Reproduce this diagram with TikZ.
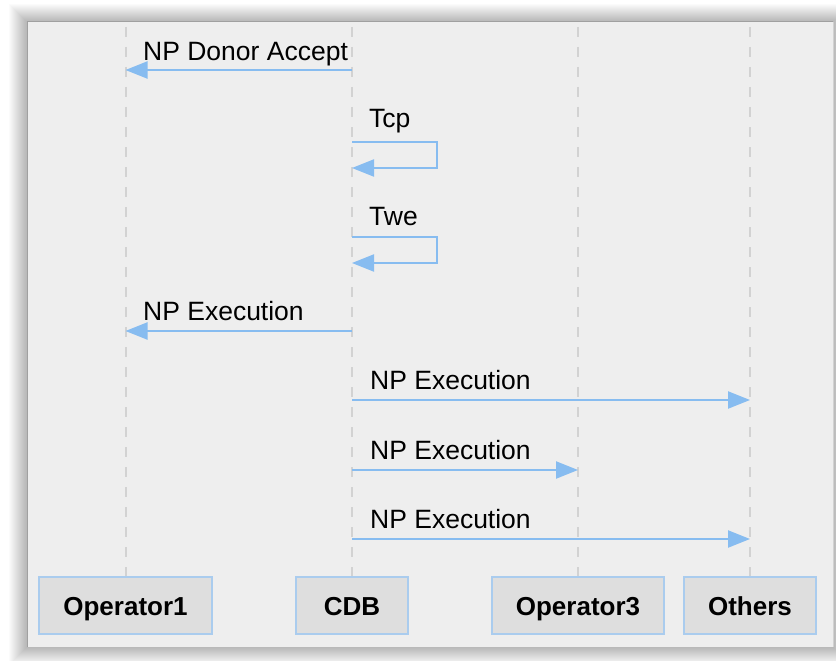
\documentclass[tikz,border=0pt]{standalone}
\usepackage{fontspec}
\setmainfont{Liberation Sans}
\usetikzlibrary{arrows.meta}
\definecolor{panelbg}{RGB}{238,238,238}
\definecolor{boxfill}{RGB}{222,222,222}
\definecolor{boxline}{RGB}{170,204,238}
\definecolor{msg}{RGB}{135,188,240}
\definecolor{life}{RGB}{210,210,210}
\definecolor{panelline}{RGB}{160,160,160}
\begin{document}
\begin{tikzpicture}[x=1pt,y=-1pt,
  lifebox/.style={draw=boxline, line width=1.5pt, fill=boxfill, minimum height=57pt, inner sep=0pt, text height=19pt, text depth=0pt, font=\fontsize{26}{30}\selectfont\bfseries},
  lifeline/.style={draw=life, line width=2pt, dash pattern=on 10pt off 10pt},
  msgline/.style={draw=msg, line width=2.2pt, -{Triangle[length=22pt,width=17pt]}},
  selfline/.style={draw=msg, line width=2pt, -{Triangle[length=22pt,width=17pt]}},
  msglabel/.style={anchor=base west, inner sep=0pt, font=\fontsize{26.5}{30}\selectfont}]
\useasboundingbox (0,0) rectangle (836,661);
\fill[white] (0,0) rectangle (836,661);
% soft shadow around the panel
\foreach \k in {1,...,18}{
  \fill[black, opacity=0.016] (27-\k,22-\k) rectangle (833+\k,647+\k);
}
\fill[panelbg] (27,22) rectangle (833,647);
\draw[panelline, line width=1pt] (27,647) -- (27,22) -- (833,22);
\draw[life, line width=1pt] (833,22) -- (833,647);

% lifeline heads (at the bottom)
\node[lifebox, minimum width=173pt] (op1) at (125.5,605.5) {Operator1};
\node[lifebox, minimum width=112pt] (cdb) at (352,605.5) {CDB};
\node[lifebox, minimum width=172pt] (op3) at (578,605.5) {Operator3};
\node[lifebox, minimum width=132pt] (oth) at (750,605.5) {Others};

% lifeline tops
\coordinate (op1top) at (125.5,27);
\coordinate (cdbtop) at (352,27);
\coordinate (op3top) at (578,27);
\coordinate (othtop) at (750,27);

\draw[lifeline] (op1top) -- (op1.north);
\draw[lifeline] (cdbtop) -- (cdb.north);
\draw[lifeline] (op3top) -- (op3.north);
\draw[lifeline] (othtop) -- (oth.north);

% message points
\coordinate (c1) at (352,70);   \coordinate (o1a) at (125.5,70);
\coordinate (t1a) at (352,142); \coordinate (t1b) at (437,142); \coordinate (t1c) at (437,168); \coordinate (t1d) at (352,168);
\coordinate (t2a) at (352,237); \coordinate (t2b) at (437,237); \coordinate (t2c) at (437,263); \coordinate (t2d) at (352,263);
\coordinate (c4) at (352,331);  \coordinate (o1b) at (125.5,331);
\coordinate (c5) at (352,400);  \coordinate (oa) at (750,400);
\coordinate (c6) at (352,470);  \coordinate (o3a) at (578,470);
\coordinate (c7) at (352,539);  \coordinate (ob) at (750,539);

% messages
\draw[msgline] (c1) -- (o1a);
\node[msglabel] (l1) at (143,61) {NP Donor Accept};

\draw[selfline] (t1a) -- (t1b) -- (t1c) -- (t1d);
\node[msglabel] (l2) at (369,128) {Tcp};

\draw[selfline] (t2a) -- (t2b) -- (t2c) -- (t2d);
\node[msglabel] (l3) at (369,225) {Twe};

\draw[msgline] (c4) -- (o1b);
\node[msglabel] (l4) at (143,320) {NP Execution};

\draw[msgline] (c5) -- (oa);
\node[msglabel] (l5) at (370,389) {NP Execution};

\draw[msgline] (c6) -- (o3a);
\node[msglabel] (l6) at (370,459) {NP Execution};

\draw[msgline] (c7) -- (ob);
\node[msglabel] (l7) at (370,528) {NP Execution};
\end{tikzpicture}
\end{document}
